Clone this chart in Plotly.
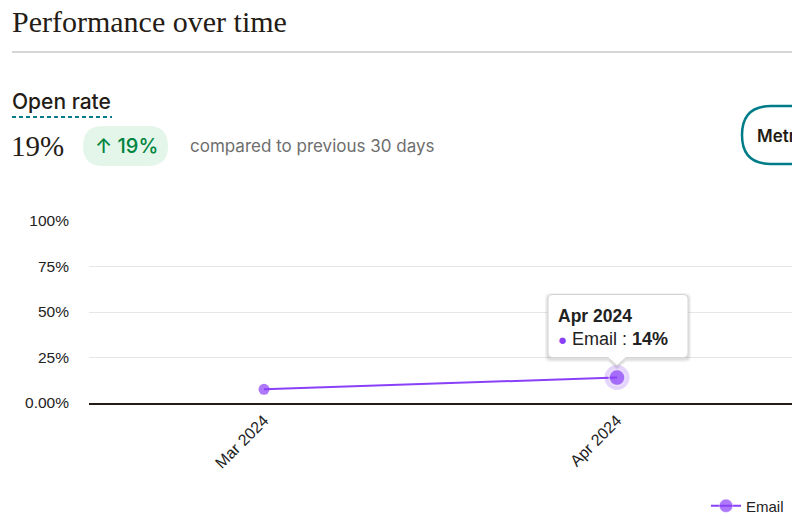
import plotly.graph_objects as go

# ---- data ----
months = ["Mar 2024", "Apr 2024"]
open_rate = [7.5, 14]
series_name = "Email"
y_ticks = [0, 25, 50, 75, 100]
y_tick_labels = ["0.00%", "25%", "50%", "75%", "100%"]
title_text = "Performance over time"
metric_name = "Open rate"
metric_value = "19%"
change_text = "↑ 19%"
compare_text = "compared to previous 30 days"
button_text = "Metrics"
highlight_index = 1

# page body has an 8px margin, so the figure is drawn 8px in from the window corner
OFF = 8
W, H = 800, 525 - 2 * OFF
PURPLE = "#8a40f8"
TEAL = "#007c89"
INK = "#241c15"
SERIF = "Liberation Serif, DejaVu Serif, serif"
UI = "Inter, Noto Sans, sans-serif"
CHART = "Liberation Sans, Arial, sans-serif"


def px(x):
    return (x - OFF) / W


def py(y):
    return 1 - (y - OFF) / H


def rrect_path(x0, y0, x1, y1, r):
    """rounded rect in window pixel coords (y down) -> plotly pixel path anchored at paper top-left"""
    x0, x1, y0, y1 = x0 - OFF, x1 - OFF, y0 - OFF, y1 - OFF
    p = [
        f"M{x0 + r},{-y0}", f"L{x1 - r},{-y0}", f"Q{x1},{-y0} {x1},{-(y0 + r)}",
        f"L{x1},{-(y1 - r)}", f"Q{x1},{-y1} {x1 - r},{-y1}", f"L{x0 + r},{-y1}",
        f"Q{x0},{-y1} {x0},{-(y1 - r)}", f"L{x0},{-(y0 + r)}", f"Q{x0},{-y0} {x0 + r},{-y0}", "Z",
    ]
    return " ".join(p)


def tooltip_path(x0, y0, x1, y1, r, tw, th):
    p = [
        f"M{x0 + r},{-y0}", f"L{x1 - r},{-y0}", f"Q{x1},{-y0} {x1},{-(y0 + r)}",
        f"L{x1},{-(y1 - r)}", f"Q{x1},{-y1} {x1 - r},{-y1}",
        f"L{tw},{-y1}", f"L0,{-(y1 + th)}", f"L{-tw},{-y1}",
        f"L{x0 + r},{-y1}",
        f"Q{x0},{-y1} {x0},{-(y1 - r)}", f"L{x0},{-(y0 + r)}", f"Q{x0},{-y0} {x0 + r},{-y0}", "Z",
    ]
    return " ".join(p)


fig = go.Figure()

# halo around highlighted point
fig.add_trace(go.Scatter(
    x=[months[highlight_index]], y=[open_rate[highlight_index]], mode="markers",
    marker=dict(size=25, color="rgba(138,64,248,0.22)"), showlegend=False,
    hoverinfo="skip", cliponaxis=False))

n = len(months)
sizes = [16 if i == highlight_index else 11 for i in range(n)]
ring_w = [1.5 if i == highlight_index else 0 for i in range(n)]
fig.add_trace(go.Scatter(
    x=months, y=open_rate, mode="lines+markers", name=series_name,
    line=dict(color=PURPLE, width=2),
    marker=dict(size=sizes, color=PURPLE, line=dict(color="rgba(255,255,255,0.7)", width=ring_w)),
    cliponaxis=False))

shapes = []
# header rule
shapes.append(dict(type="line", xref="paper", yref="paper", x0=px(12), x1=1,
                   y0=py(52), y1=py(52), line=dict(color="#c8c8c8", width=1.5)))
# dashed underline
shapes.append(dict(type="line", xref="paper", yref="paper", x0=px(12), x1=px(112),
                   y0=py(117), y1=py(117), line=dict(color=TEAL, width=2, dash="4px,3px")))
# green pill
shapes.append(dict(type="path", xref="paper", yref="paper", xsizemode="pixel", ysizemode="pixel",
                   xanchor=0, yanchor=1, path=rrect_path(83, 126, 168, 166, 20),
                   fillcolor="#e4f6ea", line=dict(width=0)))
# metrics button
shapes.append(dict(type="path", xref="paper", yref="paper", xsizemode="pixel", ysizemode="pixel",
                   xanchor=0, yanchor=1, path=rrect_path(742, 106, 880, 164, 29),
                   fillcolor="white", line=dict(color=TEAL, width=2.5)))

# tooltip (anchored to highlighted data point)
hx, hy = months[highlight_index], open_rate[highlight_index]
for off, col in [(3, "rgba(0,0,0,0.05)"), (1.5, "rgba(0,0,0,0.07)")]:
    shapes.append(dict(type="path", xref="x", yref="y", xsizemode="pixel", ysizemode="pixel",
                       xanchor=hx, yanchor=hy,
                       path=tooltip_path(-69 - off, -83 - off + 1.5, 71 + off, -20 + off + 1.5, 5, 9, 8),
                       fillcolor=col, line=dict(width=0)))
shapes.append(dict(type="path", xref="x", yref="y", xsizemode="pixel", ysizemode="pixel",
                   xanchor=hx, yanchor=hy, path=tooltip_path(-69, -83, 71, -20, 5, 9, 8),
                   fillcolor="white", line=dict(color="#d4d4d4", width=1)))

annotations = [
    dict(text=title_text, x=px(10), y=py(21), xref="paper", yref="paper", xanchor="left",
         yanchor="middle", showarrow=False, font=dict(family=SERIF, size=30, color=INK)),
    dict(text=metric_name, x=px(10), y=py(102), xref="paper", yref="paper", xanchor="left",
         yanchor="middle", showarrow=False, font=dict(family=UI, size=21, color=INK, weight=500)),
    dict(text=metric_value, x=px(9), y=py(146), xref="paper", yref="paper", xanchor="left",
         yanchor="middle", showarrow=False, font=dict(family=SERIF, size=29, color=INK)),
    dict(text=change_text, x=px(126), y=py(146), xref="paper", yref="paper", xanchor="center",
         yanchor="middle", showarrow=False, font=dict(family=UI, size=20, color="#00843f", weight=500)),
    dict(text=compare_text, x=px(188), y=py(146), xref="paper", yref="paper", xanchor="left",
         yanchor="middle", showarrow=False, font=dict(family=UI, size=17, color="#6e6e6e")),
    dict(text=button_text, x=px(755), y=py(136), xref="paper", yref="paper", xanchor="left",
         yanchor="middle", showarrow=False, font=dict(family=UI, size=17, color=INK, weight=600)),
    dict(text="<b>" + hx + "</b>", x=hx, y=hy, xref="x", yref="y", xanchor="left", yanchor="middle",
         xshift=-61, yshift=62, showarrow=False, font=dict(family=CHART, size=17.5, color="#222")),
    dict(text=f"<span style='color:{PURPLE};font-size:15px'>●</span> {series_name} : <b>{hy:g}%</b>",
         x=hx, y=hy, xref="x", yref="y", xanchor="left", yanchor="middle",
         xshift=-61, yshift=39, showarrow=False, font=dict(family=CHART, size=18, color="#222")),
]

# category positions in the window: first at x=264, step 353 px; plot area spans x=89..808
cat0, step = 264, 353
fig.update_layout(
    width=W, height=H, margin=dict(l=0, r=0, t=0, b=0, autoexpand=False),
    paper_bgcolor="white", plot_bgcolor="white",
    font=dict(family=CHART, size=15, color="#222"),
    shapes=shapes, annotations=annotations,
    showlegend=True,
    legend=dict(orientation="h", x=px(789), xanchor="right", y=py(506), yanchor="middle",
                font=dict(family=CHART, size=15, color="#222"), bgcolor="rgba(0,0,0,0)"),
    xaxis=dict(type="category", categoryorder="array", categoryarray=months,
               domain=[px(89), 1],
               range=[-(cat0 - 89) / step, (808 - cat0) / step],
               showgrid=False, showline=True, linecolor=INK, linewidth=1.5,
               tickangle=-45, tickfont=dict(size=16), ticks="", fixedrange=True),
    yaxis=dict(domain=[py(403), py(221)], range=[0, 100], tickvals=y_ticks, ticktext=y_tick_labels,
               showgrid=True, gridcolor="#e6e6e6", gridwidth=1, zeroline=False, showline=False,
               ticks="", ticklabelstandoff=19, tickfont=dict(size=15.5), fixedrange=True),
)

fig.write_html("out.html")
